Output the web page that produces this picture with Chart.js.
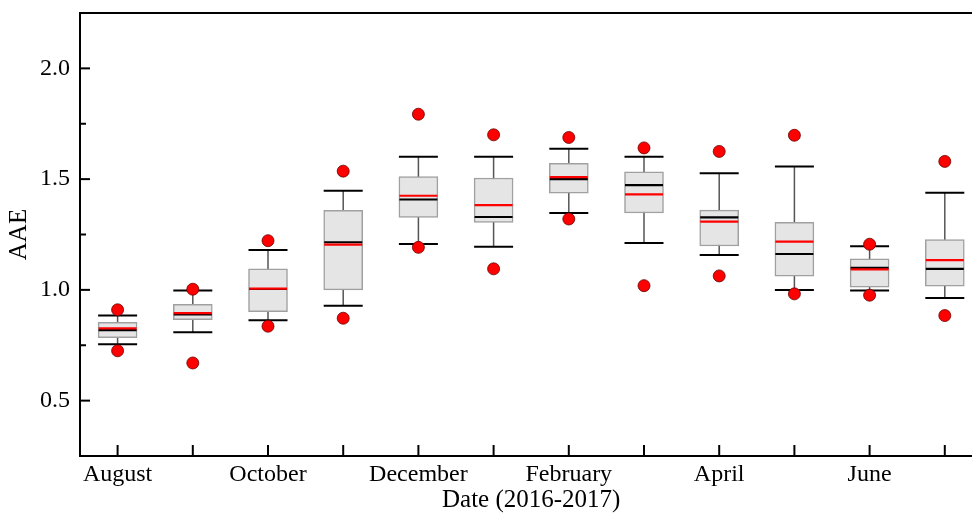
<!DOCTYPE html>
<html>
<head>
<meta charset="utf-8">
<script src="https://cdn.jsdelivr.net/npm/chart.js@4"></script>
<style>
  html, body { margin: 0; padding: 0; background: #fff; }
  #wrap { width: 972px; height: 523px; overflow: hidden; position: relative; }
  canvas { position: absolute; left: 0; top: 0; }
</style>
</head>
<body>
<div id="wrap"><canvas id="c" width="1000" height="523"></canvas></div>
<script>
// Monthly AAE distributions, August 2016 to July 2017
const months = ['August', 'September', 'October', 'November', 'December', 'January',
                'February', 'March', 'April', 'May', 'June', 'July'];
const xTickLabels = ['August', '', 'October', '', 'December', '', 'February', '', 'April', '', 'June', ''];

const maxPoint     = [0.910, 1.003, 1.222, 1.536, 1.793, 1.700, 1.688, 1.641, 1.625, 1.698, 1.206, 1.580];
const upperWhisker = [0.884, 0.997, 1.180, 1.447, 1.601, 1.601, 1.637, 1.601, 1.527, 1.557, 1.197, 1.438];
const q3           = [0.853, 0.935, 1.095, 1.359, 1.512, 1.505, 1.571, 1.533, 1.360, 1.305, 1.140, 1.227];
const median       = [0.818, 0.889, 1.004, 1.215, 1.408, 1.329, 1.500, 1.473, 1.327, 1.162, 1.099, 1.095];
const mean         = [0.826, 0.895, 1.006, 1.204, 1.425, 1.383, 1.509, 1.431, 1.308, 1.218, 1.093, 1.134];
const q1           = [0.784, 0.865, 0.902, 1.000, 1.327, 1.305, 1.437, 1.347, 1.198, 1.062, 1.012, 1.017];
const lowerWhisker = [0.754, 0.809, 0.863, 0.928, 1.207, 1.195, 1.347, 1.212, 1.158, 1.000, 0.997, 0.963];
const minPoint     = [0.725, 0.670, 0.836, 0.872, 1.192, 1.095, 1.320, 1.019, 1.063, 0.982, 0.976, 0.884];

const yTickValues = [0.5, 1.0, 1.5, 2.0];

const FONT = "'Liberation Serif', 'Times New Roman', serif";
const BOX_W = 39;

// Whiskers (behind boxes), medians/means (over boxes), frame and inward ticks
const boxPlotPlugin = {
  id: 'boxPlot',
  beforeDatasetsDraw(chart) {
    const { ctx, scales: { x, y } } = chart;
    ctx.save();
    months.forEach((m, i) => {
      const cx = x.getPixelForValue(i);
      ctx.strokeStyle = '#555';
      ctx.lineWidth = 1.5;
      ctx.beginPath();
      ctx.moveTo(cx, y.getPixelForValue(upperWhisker[i]));
      ctx.lineTo(cx, y.getPixelForValue(lowerWhisker[i]));
      ctx.stroke();
      ctx.strokeStyle = '#000';
      ctx.lineWidth = 2;
      [upperWhisker[i], lowerWhisker[i]].forEach(v => {
        const py = y.getPixelForValue(v);
        ctx.beginPath();
        ctx.moveTo(cx - BOX_W / 2, py);
        ctx.lineTo(cx + BOX_W / 2, py);
        ctx.stroke();
      });
    });
    ctx.restore();
  },
  afterDatasetDraw(chart, args) {
    if (args.meta.type !== 'bar') return;
    const { ctx, scales: { x, y } } = chart;
    ctx.save();
    ctx.lineWidth = 2.2;
    months.forEach((m, i) => {
      const cx = x.getPixelForValue(i);
      const w = BOX_W - 1;
      ctx.strokeStyle = '#000';
      let py = y.getPixelForValue(median[i]);
      ctx.beginPath(); ctx.moveTo(cx - w / 2, py); ctx.lineTo(cx + w / 2, py); ctx.stroke();
      ctx.strokeStyle = '#ff0000';
      py = y.getPixelForValue(mean[i]);
      ctx.beginPath(); ctx.moveTo(cx - w / 2, py); ctx.lineTo(cx + w / 2, py); ctx.stroke();
    });
    ctx.restore();
  },
  afterDraw(chart) {
    const { ctx, chartArea: a, scales: { x, y } } = chart;
    ctx.save();
    ctx.strokeStyle = '#000';
    ctx.lineWidth = 2;
    // top and right frame
    ctx.beginPath();
    ctx.moveTo(a.left - 1, a.top);
    ctx.lineTo(a.right, a.top);
    ctx.lineTo(a.right, a.bottom);
    ctx.stroke();
    // inward ticks on the value axis
    y.ticks.forEach(t => {
      if (t.value <= y.min || t.value >= y.max) return;
      const major = yTickValues.some(v => Math.abs(v - t.value) < 1e-6);
      const py = y.getPixelForValue(t.value);
      ctx.beginPath();
      ctx.moveTo(a.left, py);
      ctx.lineTo(a.left + (major ? 10 : 6), py);
      ctx.stroke();
    });
    // inward ticks on the month axis
    months.forEach((m, i) => {
      const px = x.getPixelForValue(i);
      ctx.beginPath();
      ctx.moveTo(px, a.bottom);
      ctx.lineTo(px, a.bottom - 11);
      ctx.stroke();
    });
    ctx.restore();
  }
};

new Chart(document.getElementById('c'), {
  data: {
    labels: months,
    datasets: [
      {
        type: 'line',
        label: 'max',
        data: maxPoint,
        showLine: false,
        pointRadius: 6,
        pointBackgroundColor: '#ff0000',
        pointBorderColor: '#6a0000',
        pointBorderWidth: 0.8,
        order: 0
      },
      {
        type: 'line',
        label: 'min',
        data: minPoint,
        showLine: false,
        pointRadius: 6,
        pointBackgroundColor: '#ff0000',
        pointBorderColor: '#6a0000',
        pointBorderWidth: 0.8,
        order: 0
      },
      {
        type: 'bar',
        label: 'IQR',
        data: months.map((m, i) => [q1[i], q3[i]]),
        backgroundColor: '#e5e5e5',
        borderColor: '#a0a0a0',
        borderWidth: 1.5,
        borderSkipped: false,
        barThickness: BOX_W,
        order: 1
      }
    ]
  },
  options: {
    responsive: false,
    devicePixelRatio: 1,
    animation: false,
    events: [],
    layout: { padding: { left: 0, right: 17.6, top: 13, bottom: 0 } },
    plugins: { legend: { display: false }, tooltip: { enabled: false } },
    scales: {
      x: {
        type: 'category',
        offset: true,
        grid: { display: true, drawOnChartArea: false, drawTicks: false, offset: false },
        border: { display: true, color: '#000', width: 2 },
        ticks: {
          autoSkip: false,
          maxRotation: 0,
          padding: 4,
          color: '#000',
          font: { family: FONT, size: 24 },
          callback: (v, i) => xTickLabels[i]
        },
        title: {
          display: true,
          text: 'Date (2016-2017)',
          color: '#000',
          font: { family: FONT, size: 25 },
          padding: { top: 0, bottom: 8 }
        },
        afterFit: s => { s.height = 67; s.paddingLeft = 0; s.paddingRight = 0; }
      },
      y: {
        min: 0.25,
        max: 2.25,
        grid: { display: true, drawOnChartArea: false, drawTicks: false },
        border: { display: true, color: '#000', width: 2 },
        ticks: {
          stepSize: 0.25,
          autoSkip: false,
          padding: 10,
          color: '#000',
          font: { family: FONT, size: 24 },
          callback: v => yTickValues.some(t => Math.abs(t - v) < 1e-6) ? v.toFixed(1) : ''
        },
        title: {
          display: true,
          text: 'AAE',
          color: '#000',
          font: { family: FONT, size: 25 },
          padding: { top: 4, bottom: 0 }
        },
        afterFit: s => { s.width = 80; s.paddingTop = 0; s.paddingBottom = 0; }
      }
    }
  },
  plugins: [boxPlotPlugin]
});
</script>
</body>
</html>
